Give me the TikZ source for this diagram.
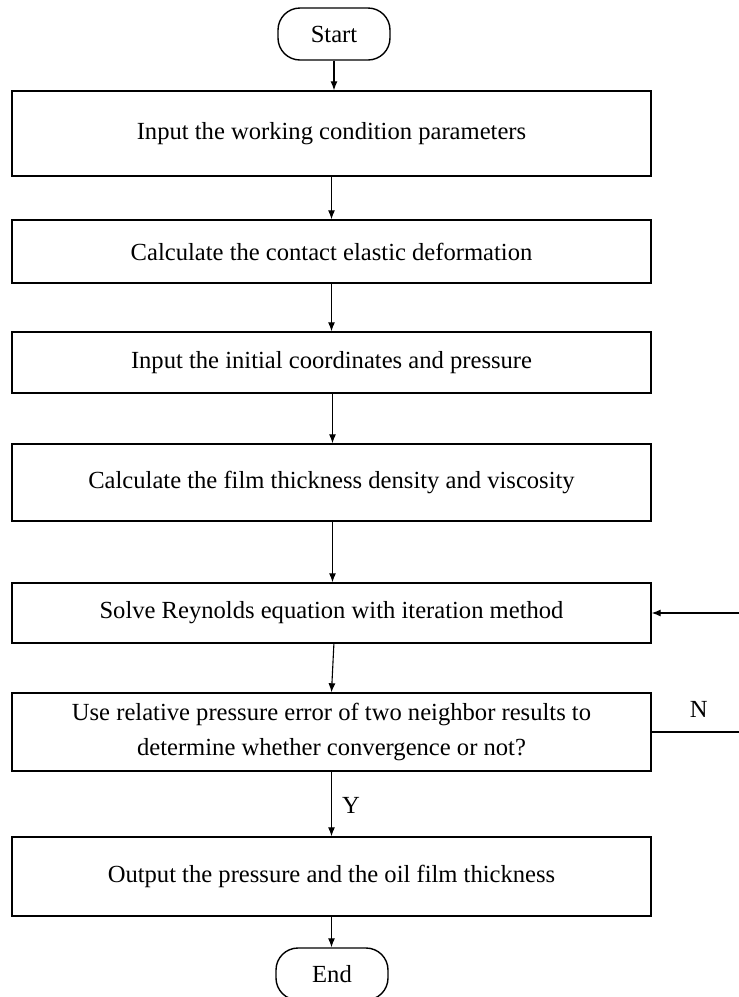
\documentclass[tikz,border=0pt]{standalone}
\usepackage{fontspec}
\setmainfont{Liberation Serif}
\usetikzlibrary{arrows.meta}
\begin{document}
\begin{tikzpicture}[x=0.5pt,y=-0.5pt,
  every node/.style={font=\fontsize{12.3}{17.5}\selectfont},
  box/.style={draw, line width=0.7pt, minimum width=319.5pt, inner sep=0pt, align=center},
  term/.style={draw, line width=0.7pt, rounded corners=11pt, minimum width=56pt, minimum height=26pt, inner sep=0pt},
  flow/.style={line width=0.55pt, -{Latex[length=4.5pt,width=3.5pt]}},
  lbl/.style={inner sep=0pt}]
\clip (0,0) rectangle (739,997);
\node[term] (start) at (334,34) {Start};
\node[box, minimum height=42.5pt] (b1) at (331.5,133.5) {Input the working condition parameters};
\node[box, minimum height=31.5pt] (b2) at (331.5,251.5) {Calculate the contact elastic deformation};
\node[box, minimum height=30.5pt] (b3) at (331.5,362.5) {Input the initial coordinates and pressure};
\node[box, minimum height=38.5pt] (b4) at (331.5,482.5) {Calculate the film thickness density and viscosity};
\node[box, minimum height=30pt] (b5) at (331.5,613) {Solve Reynolds equation with iteration method};
\node[box, minimum height=39pt] (b6) at (331.5,732) {Use relative pressure error of two neighbor results to\\determine whether convergence or not?};
\node[box, minimum height=39.5pt] (b7) at (331.5,876.5) {Output the pressure and the oil film thickness};
\node[term] (end) at (332,974) {End};
\coordinate (rt) at (746,732);
\draw[flow] (start.south) -- (start.south |- b1.north);
\draw[flow] (b1.south) -- (b2.north);
\draw[flow] (b2.south) -- (b3.north);
\draw[flow] ([xshift=0.5pt]b3.south) -- ([xshift=0.5pt]b4.north);
\draw[flow] ([xshift=0.5pt]b4.south) -- ([xshift=0.5pt]b5.north);
\draw[flow] ([xshift=1.2pt]b5.south) -- (b6.north);
\draw[flow] (b6.south) -- node[lbl, right=5pt, pos=0.52]{Y} (b7.north);
\draw[flow] (b7.south) -- (b7.south |- end.north);
\draw[line width=0.55pt] (b6.east) -- node[lbl, above=7pt, pos=0.5]{N} (rt);
\draw[flow] (rt) |- (b5.east);
\end{tikzpicture}
\end{document}
